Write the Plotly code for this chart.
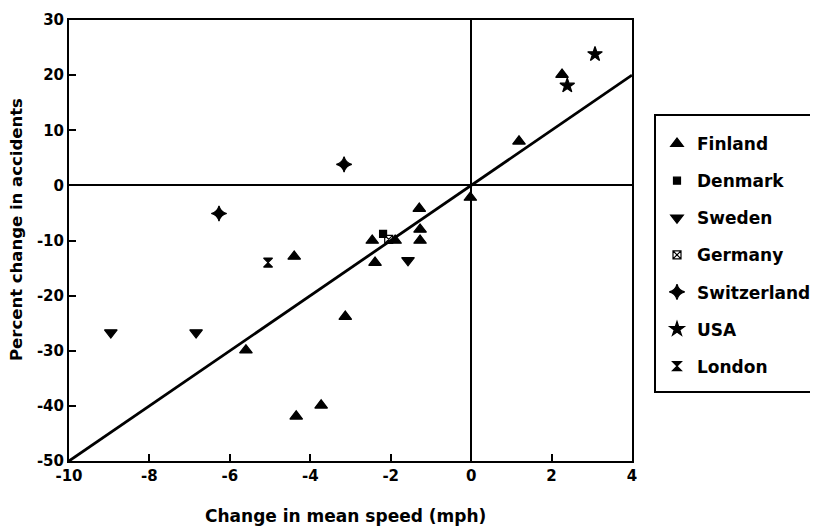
import plotly.graph_objects as go

# ---- data ----
finland_x = [2.26, 1.19, -0.02, -1.29, -1.27, -1.27, -2.46, -1.89, -2.39, -4.40, -3.13, -5.60, -3.73, -4.35]
finland_y = [20.1, 8.0, -2.2, -4.2, -8.0, -10.0, -10.0, -10.0, -14.0, -12.9, -23.8, -29.9, -39.9, -41.9]
denmark_x = [-2.19]
denmark_y = [-8.8]
sweden_x = [-1.57, -8.96, -6.84]
sweden_y = [-13.6, -26.7, -26.7]
germany_x = [-2.05]
germany_y = [-9.8]
switzerland_x = [-3.16, -6.27]
switzerland_y = [3.8, -5.1]
usa_x = [3.08, 2.39]
usa_y = [23.8, 18.1]
london_x = [-5.05]
london_y = [-14.0]

fit_x = [-10, 4]
fit_slope = 5.0

x_ticks = [-10, -8, -6, -4, -2, 0, 2, 4]
x_ticklabels = ["-10", "-8", "-6", "-4", "-2", "0", "2", "4"]
y_ticks = [30, 20, 10, 0, -10, -20, -30, -40, -50]
y_ticklabels = ["30", "20", "10", "0", "-10", "-20", "-30", "-40", "-50"]

FONT = "DejaVu Sans, Verdana, sans-serif"

# page body has an 8px margin: figure coordinates = window coordinates - 8
W, H = 810, 520
L, T = 61, 12
PW, PH = 563, 441

fig = go.Figure()

fig.add_trace(go.Scatter(x=fit_x, y=[fit_slope * v for v in fit_x], mode="lines",
                         line=dict(color="black", width=2.8), showlegend=False,
                         hoverinfo="skip"))

series = [
    ("Finland", finland_x, finland_y, "triangle-up", 11),
    ("Denmark", denmark_x, denmark_y, "square", 7),
    ("Sweden", sweden_x, sweden_y, "triangle-down", 11),
    ("Germany", germany_x, germany_y, "square-x-open", 8),
    ("Switzerland", switzerland_x, switzerland_y, "star-diamond", 11),
    ("USA", usa_x, usa_y, "star", 11),
    ("London", london_x, london_y, "hourglass", 9),
]
for name, xs, ys, sym, sz in series:
    fig.add_trace(go.Scatter(
        x=xs, y=ys, mode="markers", name=name, legendgroup=name,
        marker=dict(symbol=sym, size=sz, color="black",
                    line=dict(color="black", width=1.2)),
    ))

axis_common = dict(
    showgrid=False, zeroline=True, zerolinecolor="black", zerolinewidth=1.6,
    showline=True, linecolor="black", linewidth=2, mirror=True,
    ticks="inside", ticklen=7, tickwidth=1.5, tickcolor="black",
    tickfont=dict(family=FONT, size=15, color="black", weight="bold"),
)

fig.update_xaxes(range=[-10, 4], tickmode="array", tickvals=x_ticks, ticktext=x_ticklabels,
                 **axis_common)
fig.update_yaxes(range=[-50, 30], tickmode="array", tickvals=y_ticks, ticktext=y_ticklabels,
                 **axis_common)


def px_x(wx):
    return (wx - 8 - L) / PW


def px_y(wy):
    return (T + PH - (wy - 8)) / PH


fig.add_annotation(text="Change in mean speed (mph)", xref="paper", yref="paper",
                   x=px_x(345), y=px_y(516), xanchor="center", yanchor="middle",
                   showarrow=False,
                   font=dict(family=FONT, size=17, color="black", weight="bold"))
fig.add_annotation(text="Percent change in accidents", xref="paper", yref="paper",
                   x=px_x(16), y=px_y(230), xanchor="center", yanchor="middle",
                   textangle=-90, showarrow=False,
                   font=dict(family=FONT, size=16.5, color="black", weight="bold"))

# legend frame (runs off the right edge as in the original)
fig.add_shape(type="rect", xref="paper", yref="paper",
              x0=px_x(655), x1=px_x(860), y0=px_y(392), y1=px_y(115),
              line=dict(color="black", width=2), fillcolor="rgba(0,0,0,0)")

fig.update_layout(
    width=W, height=H,
    margin=dict(l=L, r=W - L - PW, t=T, b=H - T - PH, pad=0, autoexpand=False),
    paper_bgcolor="white", plot_bgcolor="white",
    font=dict(family=FONT, color="black"),
    legend=dict(
        x=px_x(657), xanchor="left",
        y=px_y(126), yanchor="top",
        borderwidth=0, bgcolor="rgba(0,0,0,0)",
        font=dict(family=FONT, size=17, color="black", weight="bold"),
        tracegroupgap=12, itemwidth=30,
    ),
)

fig.write_html("out.html")
